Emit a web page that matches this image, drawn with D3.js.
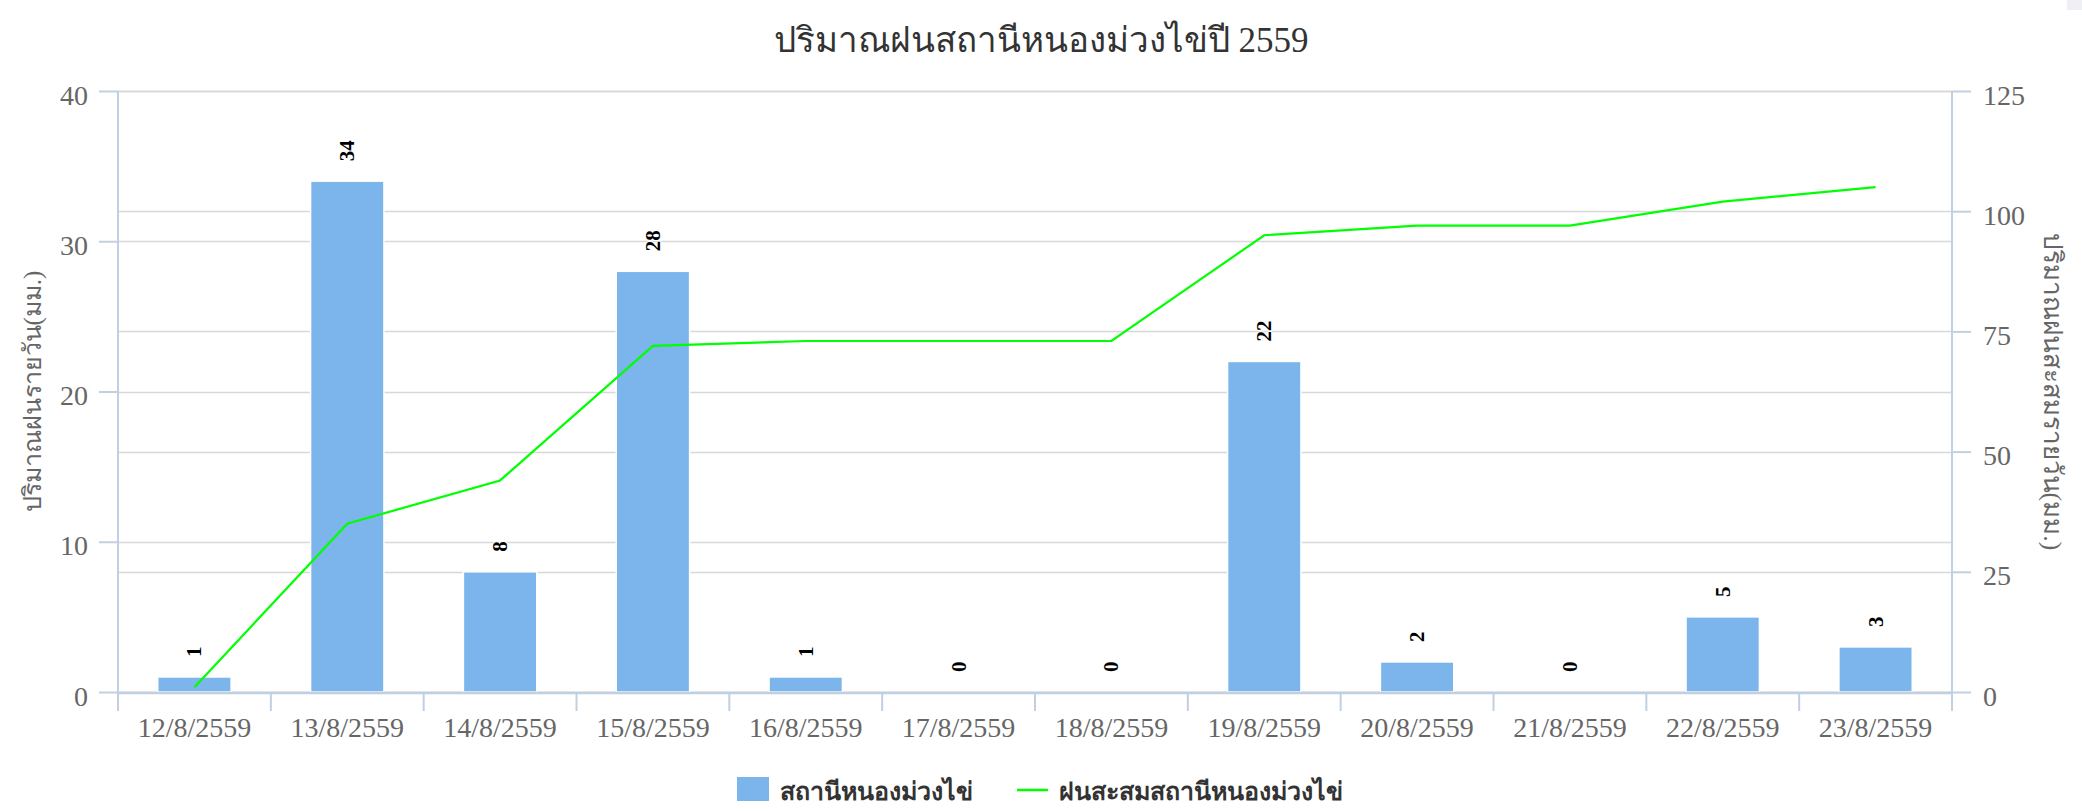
<!DOCTYPE html>
<html>
<head>
<meta charset="utf-8">
<script src="https://cdn.jsdelivr.net/npm/d3@7"></script>
<style>
  html, body { margin: 0; padding: 0; background: #fff; }
  svg { display: block; }
</style>
</head>
<body>
<svg id="chart" width="2082" height="811"></svg>
<script>
const titleText = 'ปริมาณฝนสถานีหนองม่วงไข่ปี 2559';
const leftAxisTitle = 'ปริมาณฝนรายวัน(มม.)';
const rightAxisTitle = 'ปริมาณฝนสะสมรายวัน(มม.)';
const categories = ['12/8/2559','13/8/2559','14/8/2559','15/8/2559','16/8/2559','17/8/2559','18/8/2559','19/8/2559','20/8/2559','21/8/2559','22/8/2559','23/8/2559'];
const dailyRain = [1, 34, 8, 28, 1, 0, 0, 22, 2, 0, 5, 3];
const cumulativeRain = [1, 35, 44, 72, 73, 73, 73, 95, 97, 97, 102, 105];
const leftTicks = [0, 10, 20, 30, 40];
const rightTicks = [0, 25, 50, 75, 100, 125];
const seriesNames = ['สถานีหนองม่วงไข่', 'ฝนสะสมสถานีหนองม่วงไข่'];

const W = 2082, H = 811;
const plot = { left: 118, right: 1952, top: 91, bottom: 692 };
const svg = d3.select('#chart');
const serif = "'Liberation Serif', 'Times New Roman', serif";
const sans = "'Noto Sans', 'DejaVu Sans', sans-serif";

// small corner artifact
svg.append('rect').attr('x', 2067).attr('y', 0).attr('width', 15).attr('height', 10).attr('fill', '#eef0f6');

const x = d3.scaleBand().domain(categories).range([plot.left, plot.right]).padding(0);
const yL = d3.scaleLinear().domain([0, 40]).range([plot.bottom, plot.top]);
const yR = d3.scaleLinear().domain([0, 125]).range([plot.bottom, plot.top]);

// gridlines
const grid = svg.append('g');
grid.selectAll('.gl').data(leftTicks).join('line')
  .attr('x1', plot.left).attr('x2', plot.right)
  .attr('y1', d => Math.round(yL(d)) + 0.5).attr('y2', d => Math.round(yL(d)) + 0.5)
  .attr('stroke', '#d8d8d8').attr('stroke-width', 1.5);
grid.selectAll('.gr').data(rightTicks).join('line')
  .attr('x1', plot.left).attr('x2', plot.right)
  .attr('y1', d => Math.round(yR(d)) + 0.5).attr('y2', d => Math.round(yR(d)) + 0.5)
  .attr('stroke', '#d8d8d8').attr('stroke-width', 1.5);

// bars
const bw = x.bandwidth() * 0.48;
svg.append('g').selectAll('rect').data(dailyRain).join('rect')
  .attr('x', (d, i) => x(categories[i]) + x.bandwidth() / 2 - bw / 2)
  .attr('y', d => yL(d))
  .attr('width', bw)
  .attr('height', d => plot.bottom - yL(d))
  .attr('fill', '#7cb5ec')
  .attr('stroke', '#ffffff').attr('stroke-width', 1.5);

// x axis (labels via d3 axis)
const xAxis = svg.append('g').attr('transform', `translate(0,${plot.bottom})`)
  .call(d3.axisBottom(x).tickSize(0).tickPadding(0));
xAxis.select('.domain').remove();
xAxis.selectAll('text')
  .attr('y', 45).attr('dy', 0)
  .attr('font-family', serif).attr('font-size', 28).attr('fill', '#666666');

// x boundary ticks
const bounds = categories.map(c => x(c)).concat([plot.right]);
svg.append('g').selectAll('line').data(bounds).join('line')
  .attr('x1', d => d).attr('x2', d => d)
  .attr('y1', plot.bottom).attr('y2', plot.bottom + 19)
  .attr('stroke', '#c0d0e0').attr('stroke-width', 2);

// left axis
const la = svg.append('g').attr('transform', `translate(${plot.left},0)`)
  .call(d3.axisLeft(yL).tickValues(leftTicks).tickSize(19).tickPadding(11));
la.select('.domain').attr('stroke', '#c0d0e0').attr('stroke-width', 2).attr('d', `M0,${plot.top}V${plot.bottom + 19}`);
la.selectAll('.tick line').attr('stroke', '#c0d0e0').attr('stroke-width', 2);
la.selectAll('text').attr('font-family', serif).attr('font-size', 28).attr('fill', '#666666').attr('dy', 13);

// right axis
const ra = svg.append('g').attr('transform', `translate(${plot.right},0)`)
  .call(d3.axisRight(yR).tickValues(rightTicks).tickSize(19).tickPadding(12));
ra.select('.domain').attr('stroke', '#c0d0e0').attr('stroke-width', 2).attr('d', `M0,${plot.top}V${plot.bottom + 19}`);
ra.selectAll('.tick line').attr('stroke', '#c0d0e0').attr('stroke-width', 2);
ra.selectAll('text').attr('font-family', serif).attr('font-size', 28).attr('fill', '#666666').attr('dy', 13);

// x axis line on top
svg.append('line').attr('x1', plot.left).attr('x2', plot.right)
  .attr('y1', plot.bottom + 1).attr('y2', plot.bottom + 1)
  .attr('stroke', '#c0d0e0').attr('stroke-width', 2.5);

// cumulative line
const line = d3.line()
  .x((d, i) => x(categories[i]) + x.bandwidth() / 2)
  .y(d => yR(d));
svg.append('path').datum(cumulativeRain)
  .attr('d', line).attr('fill', 'none')
  .attr('stroke', '#00ff00').attr('stroke-width', 2.2);

// data labels
svg.append('g').selectAll('text').data(dailyRain).join('text')
  .attr('transform', (d, i) => `translate(${x(categories[i]) + x.bandwidth() / 2 + 7},${yL(d) - 20}) rotate(-90)`)
  .attr('text-anchor', 'start')
  .attr('font-family', serif).attr('font-weight', 'bold').attr('font-size', 21)
  .attr('fill', '#000')
  .attr('stroke', '#fff').attr('stroke-width', 2).attr('paint-order', 'stroke')
  .text(d => d);

// title
svg.append('text').attr('x', W / 2).attr('y', 52).attr('text-anchor', 'middle')
  .attr('font-family', serif).attr('font-size', 35).attr('fill', '#333333')
  .text(titleText);

// axis titles
svg.append('text').attr('transform', `translate(32,${(plot.top + plot.bottom) / 2}) rotate(-90)`)
  .attr('text-anchor', 'middle').attr('dominant-baseline', 'central')
  .attr('font-family', serif).attr('font-size', 25).attr('fill', '#666666')
  .text(leftAxisTitle);
svg.append('text').attr('transform', `translate(2052,${(plot.top + plot.bottom) / 2}) rotate(90)`)
  .attr('text-anchor', 'middle').attr('dominant-baseline', 'central')
  .attr('font-family', serif).attr('font-size', 26).attr('fill', '#666666')
  .text(rightAxisTitle);

// legend
const lg = svg.append('g');
lg.append('rect').attr('x', 737).attr('y', 777).attr('width', 32).attr('height', 24).attr('fill', '#7cb5ec');
lg.append('text').attr('x', 780).attr('y', 800)
  .attr('font-family', sans).attr('font-weight', 'bold').attr('font-size', 25).attr('fill', '#333333')
  .text(seriesNames[0]);
lg.append('line').attr('x1', 1017).attr('x2', 1048).attr('y1', 790).attr('y2', 790)
  .attr('stroke', '#00ff00').attr('stroke-width', 2.5);
lg.append('text').attr('x', 1059).attr('y', 800)
  .attr('font-family', sans).attr('font-weight', 'bold').attr('font-size', 25).attr('fill', '#333333')
  .text(seriesNames[1]);
</script>
</body>
</html>
